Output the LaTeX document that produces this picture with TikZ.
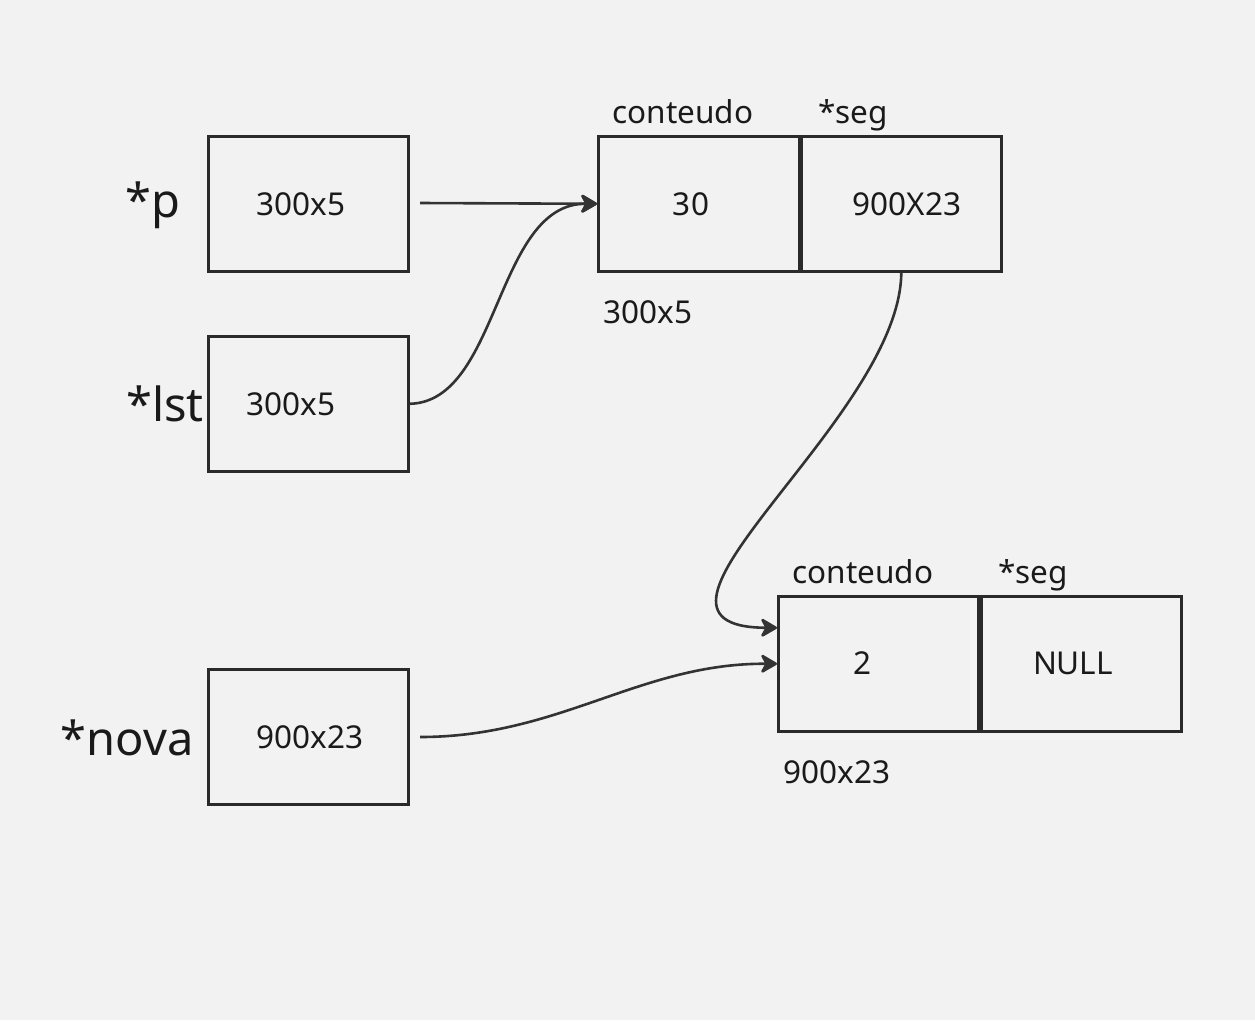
\documentclass[tikz,border=0pt]{standalone}
\usepackage{fontspec}
\setmainfont{Noto Sans}
\usetikzlibrary{arrows.meta}
\definecolor{bg}{HTML}{F2F2F2}
\definecolor{ln}{HTML}{2A2A2A}
\definecolor{ar}{HTML}{333333}
\definecolor{tx}{HTML}{1A1A1A}
\tikzset{
  cell/.style={draw=ln, line width=2.6pt, minimum width=200pt, minimum height=135pt, inner sep=0pt, anchor=north west},
  lbl/.style={text=tx, font=\fontsize{31.5}{38}\selectfont, inner sep=0pt},
  big/.style={text=tx, font=\fontsize{47}{56}\selectfont, inner sep=0pt},
  ptr/.style={draw=ar, line width=2.6pt, -{Stealth[length=19pt,width=22pt,inset=6pt,round]}}
}
\begin{document}
\begin{tikzpicture}[x=1pt,y=-1pt]
\fill[bg] (0,0) rectangle (1255,1020);
\useasboundingbox (0,0) rectangle (1255,1020);
% pointer boxes
\node[cell] (pb) at (207,135) {};
\node[cell] (lb) at (207,335) {};
\node[cell] (nb) at (207,668) {};
\node[lbl] (pv) at (301,204) {300x5};
\node[lbl] (lv) at (291,404) {300x5};
\node[lbl] (nv) at (310,737) {900x23};
\node[big] (pn) at (153,205) {*p};
\node[big] (ln) at (165,404) {*lst};
\node[big] (nn) at (127,738) {*nova};
% node 1
\node[cell, minimum width=201pt] (a1) at (597,135) {};
\node[cell] (a2) at (800,135) {};
\node[lbl] (a1v) at (691,204) {30};
\node[lbl] (a2v) at (907,204) {900X23};
\node[lbl] (a1h) at (683,112) {conteudo};
\node[lbl, anchor=base] (a2h) at (a1h.base -| 853,0) {*seg};
\node[lbl] (a1a) at (648,312) {300x5};
% node 2
\node[cell] (b1) at (777,595) {};
\node[cell] (b2) at (980,595) {};
\node[lbl] (b1v) at (862,663) {2};
\node[lbl] (b2v) at (1073,663) {NULL};
\node[lbl] (b1h) at (863,572) {conteudo};
\node[lbl, anchor=base] (b2h) at (b1h.base -| 1033,0) {*seg};
\node[lbl] (b1a) at (837,772) {900x23};
% connectors
\coordinate (ps) at (420,203);
\coordinate (ns) at (420,737);
\draw[ptr] (ps) -- (a1.west);
\draw[ptr] (lb.east) .. controls (500,402) and (495,203) .. (a1.west);
\draw[ptr] (a2.south) .. controls (900,420) and (600,627) .. ([yshift=36pt]b1.west);
\draw[ptr] (ns) .. controls (560,737) and (640,663) .. (b1.west);
\end{tikzpicture}
\end{document}
